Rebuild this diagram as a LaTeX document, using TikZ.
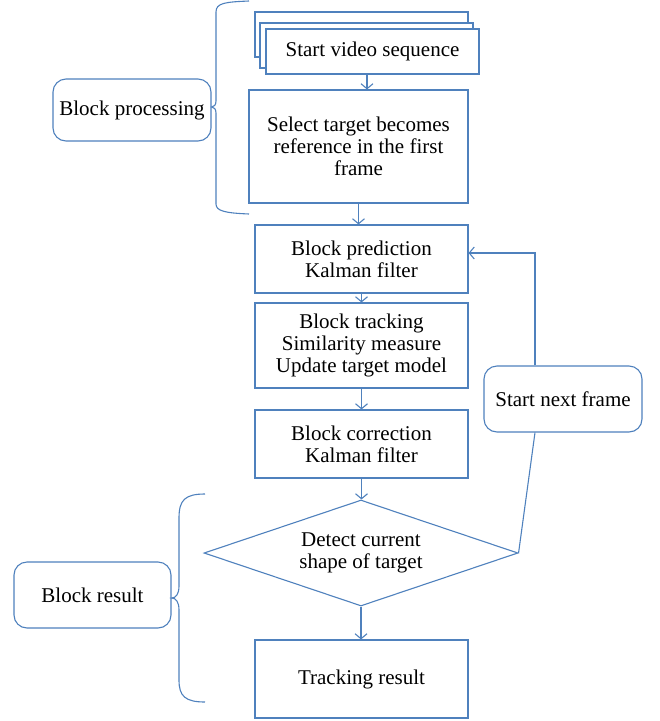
\documentclass[tikz,border=0pt]{standalone}
\usepackage{fontspec}
\setmainfont{Liberation Serif}
\usetikzlibrary{shapes.geometric,arrows.meta,calc}
\definecolor{bl}{RGB}{79,129,189}
\begin{document}
\begin{tikzpicture}[x=1pt,y=-1pt,
  every node/.style={font=\fontsize{21}{22}\selectfont, text=black},
  box/.style={draw=bl, line width=1.1pt, fill=white, align=center, inner sep=0pt},
  rbox/.style={box, rounded corners=13pt},
  ln/.style={draw=bl, line width=1.1pt},
  arr/.style={ln, -{Straight Barb[length=5pt,width=12pt,line width=1.1pt]}}]
\useasboundingbox (0,0) rectangle (660,721);
% stacked start boxes
\node[box, minimum width=213pt, minimum height=45pt] (svA) at (361.5,34.5) {};
\node[box, minimum width=213pt, minimum height=45pt] (svB) at (366.5,45.5) {};
\node[box, minimum width=213pt, minimum height=45pt] (sv) at (372.5,51.5) {Start video sequence};
\node[box, minimum width=219pt, minimum height=113pt] (sel) at (358.5,146.5) {Select target becomes\\reference in the first\\frame};
\node[box, minimum width=213pt, minimum height=68pt] (pred) at (361.5,259) {Block prediction\\Kalman filter};
\node[box, minimum width=213pt, minimum height=85pt] (trk) at (361.5,345.5) {Block tracking\\Similarity measure\\Update target model};
\node[box, minimum width=213pt, minimum height=68pt] (cor) at (361.5,444) {Block correction\\Kalman filter};
\node[box, diamond, aspect=2.962, minimum width=314pt, minimum height=106pt] (dia) at (361,553) {Detect current\\shape of target};
\node[box, minimum width=213pt, minimum height=78pt] (trr) at (361.5,679) {Tracking result};
\node[rbox, minimum width=158pt, minimum height=66pt] (snf) at (563,399) {Start next frame};
\node[rbox, minimum width=158pt, minimum height=62pt] (bp) at (132,110) {Block processing};
\node[rbox, minimum width=157pt, minimum height=66pt] (br) at (92.5,595) {Block result};
% braces
\draw[ln] (249,1) .. controls (225,2) and (216,3) .. (216,12) -- (216,101)
  .. controls (216,105) and (214,107) .. (bp.east |- 0,107)
  .. controls (214,107) and (216,109) .. (216,113) -- (216,204)
  .. controls (216,211) and (225,213) .. (249,214);
\draw[ln] (205,494) .. controls (185,494) and (179,500) .. (179,518) -- (179,586)
  .. controls (179,594) and (176,598) .. (br.east |- 0,598)
  .. controls (176,598) and (179,602) .. (179,610) -- (179,680)
  .. controls (179,696) and (185,702) .. (205,702);
% arrows
\draw[arr] ([xshift=-5.5pt]sv.south) -- ([xshift=-5.5pt]sv.south |- sel.north);
\draw[arr] (sel.south) -- (sel.south |- pred.north);
\draw[arr] (pred.south) -- (trk.north);
\draw[arr] (trk.south) -- (cor.north);
\draw[arr] (cor.south) -- (cor.south |- dia.north);
\draw[arr] (dia.south) -- (dia.south |- trr.north);
\draw[ln] (dia.east) -- ([xshift=-28pt]snf.south);
\draw[arr] ([xshift=-28pt]snf.north) |- ([yshift=6pt]pred.east);
\end{tikzpicture}
\end{document}
